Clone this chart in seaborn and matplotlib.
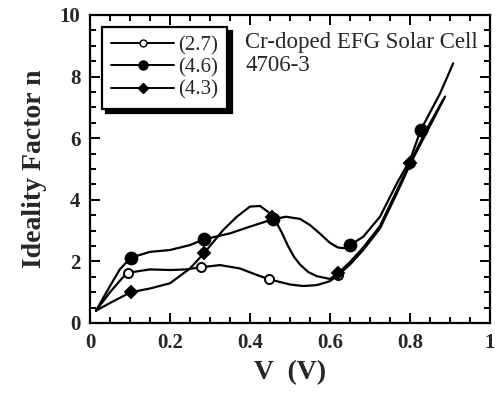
import matplotlib
matplotlib.use("Agg")
import matplotlib.pyplot as plt
import seaborn as sns
import pandas as pd
from matplotlib.lines import Line2D
from matplotlib.ticker import MultipleLocator

sns.set_theme(style="ticks")
plt.rcParams['font.family'] = ['Liberation Serif', 'DejaVu Serif']

# ---- data ----
labels = ["(2.7)", "(4.6)", "(4.3)"]

x_27 = [0.015, 0.05, 0.08, 0.094, 0.15, 0.2, 0.24, 0.2775, 0.325, 0.375, 0.417, 0.4475, 0.5, 0.533, 0.567, 0.6, 0.62, 0.65, 0.683, 0.725, 0.767, 0.804, 0.842, 0.8875]
y_27 = [0.4, 1.0, 1.45, 1.63, 1.74, 1.72, 1.74, 1.81, 1.88, 1.77, 1.56, 1.42, 1.25, 1.2, 1.23, 1.36, 1.55, 1.9, 2.37, 3.07, 4.21, 5.25, 6.2, 7.35]

x_46 = [0.015, 0.05, 0.075, 0.102, 0.15, 0.2, 0.25, 0.286, 0.35, 0.4, 0.458, 0.49, 0.525, 0.55, 0.575, 0.6, 0.62, 0.635, 0.65, 0.683, 0.725, 0.767, 0.8, 0.827, 0.875, 0.908]
y_46 = [0.4, 1.2, 1.75, 2.12, 2.31, 2.37, 2.53, 2.72, 2.91, 3.13, 3.37, 3.45, 3.38, 3.18, 2.9, 2.6, 2.45, 2.43, 2.53, 2.8, 3.45, 4.53, 5.29, 6.27, 7.45, 8.43]

x_43 = [0.015, 0.05, 0.102, 0.15, 0.2, 0.25, 0.286, 0.333, 0.367, 0.4, 0.425, 0.45, 0.467, 0.48, 0.495, 0.51, 0.525, 0.545, 0.567, 0.6, 0.62, 0.65, 0.683, 0.725, 0.767, 0.8, 0.842, 0.883]
y_43 = [0.4, 0.65, 1.0, 1.12, 1.29, 1.77, 2.28, 3.02, 3.45, 3.78, 3.80, 3.56, 3.24, 2.92, 2.5, 2.15, 1.9, 1.66, 1.52, 1.43, 1.61, 1.98, 2.45, 3.15, 4.3, 5.2, 6.3, 7.25]

mx_27 = [0.094, 0.2775, 0.4475, 0.62, 0.80]
my_27 = [1.63, 1.81, 1.42, 1.55, 5.2]
mx_46 = [0.102, 0.286, 0.458, 0.65, 0.827]
my_46 = [2.12, 2.72, 3.37, 2.53, 6.27]
mx_43 = [0.102, 0.286, 0.455, 0.62, 0.80]
my_43 = [1.0, 2.28, 3.45, 1.61, 5.2]

xticks = [0, 0.2, 0.4, 0.6, 0.8, 1]
xticklabels = ["0", "0.2", "0.4", "0.6", "0.8", "1"]
yticks = [0, 2, 4, 6, 8, 10]
title_lines = "Cr-doped EFG Solar Cell\n4706-3"

# ---- figure ----
fig = plt.figure(figsize=(4.99, 3.98), dpi=100)
ax = fig.add_axes([90/499, 75/398, 400/499, 308/398])

curves = [(x_27, y_27), (x_46, y_46), (x_43, y_43)]
marks = [(mx_27, my_27, "o", "white", 6.5), (mx_46, my_46, "o", "black", 8.5), (mx_43, my_43, "D", "black", 6.5)]
for (cx, cy), lab in zip(curves, labels):
    df = pd.DataFrame({"x": cx, "y": cy})
    sns.lineplot(data=df, x="x", y="y", ax=ax, color="black", lw=1.6,
                 sort=False, estimator=None)
for (mx, my, m, fc, s), lab in zip(marks, labels):
    ax.plot(mx, my, ls="none", marker=m, mfc=fc, mec="black", mew=1.4, ms=s, zorder=5)

ax.set_xlim(0, 1)
ax.set_ylim(0, 10)
ax.set_xticks(xticks)
ax.set_xticklabels(xticklabels)
ax.set_yticks(yticks)
ax.xaxis.set_minor_locator(MultipleLocator(0.05))
ax.yaxis.set_minor_locator(MultipleLocator(0.5))
ax.tick_params(which="both", direction="in", top=True, right=True, width=1.4, color="black")
ax.tick_params(which="major", length=7, labelsize=15, pad=7)
ax.tick_params(which="minor", length=4)
for lbl in ax.get_xticklabels() + ax.get_yticklabels():
    lbl.set_fontweight("bold")
for sp in ax.spines.values():
    sp.set_linewidth(1.6)
    sp.set_color("black")

ax.set_xlabel("V  (V)", fontsize=20, fontweight="bold", labelpad=5)
ax.set_ylabel("Ideality Factor n", fontsize=20, fontweight="bold", labelpad=9)

ax.text(0.3875, 0.945, title_lines, transform=ax.transAxes, fontsize=16.5,
        va="top", ha="left", linespacing=1.12)

handles = [
    Line2D([], [], color="black", lw=1.4, marker="o", mfc="white", mec="black", ms=5),
    Line2D([], [], color="black", lw=1.4, marker="o", mfc="black", mec="black", ms=6.5),
    Line2D([], [], color="black", lw=1.4, marker="D", mfc="black", mec="black", ms=5),
]
leg = ax.legend(handles, labels, loc="upper left", bbox_to_anchor=(0.03, 0.962),
                borderaxespad=0, frameon=True, fancybox=False,
                shadow={"ox": 3, "oy": -3, "facecolor": "black", "edgecolor": "black", "alpha": 1},
                fontsize=15, handlelength=3.0, handletextpad=0.2, labelspacing=0.12,
                borderpad=0.45, numpoints=1)
leg.get_frame().set_edgecolor("black")
leg.get_frame().set_linewidth(1.6)

fig.savefig("out.png", dpi=100)
